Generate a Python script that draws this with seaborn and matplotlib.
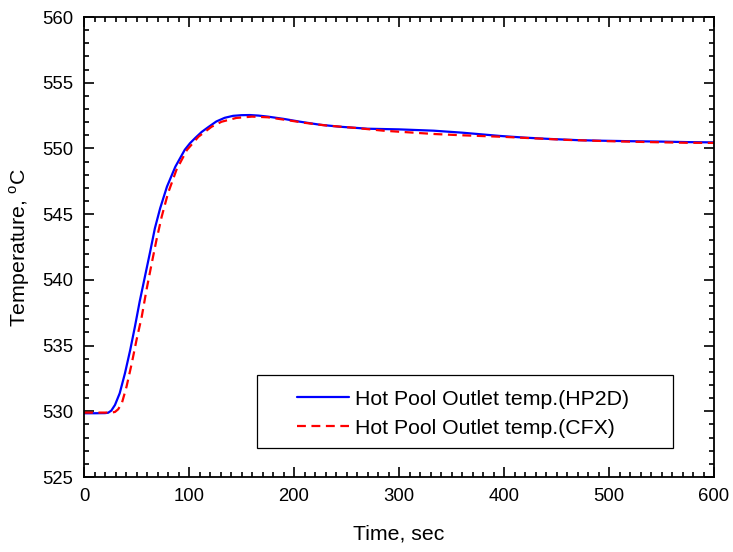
import numpy as np
import pandas as pd
import matplotlib
matplotlib.use("Agg")
import matplotlib.pyplot as plt
import seaborn as sns
from matplotlib.ticker import MultipleLocator
from matplotlib.patches import Rectangle

# ---- data ----
time_hp2d = [0, 10, 20, 23, 26, 29.5, 34, 39, 44, 48.5, 53, 58, 63, 67.5, 72.5,
             79, 87, 96, 101, 106, 112, 118, 126, 134, 142, 150, 158, 166, 175,
             190, 206, 225, 244, 270, 300, 333, 360, 396, 420, 444, 470, 491,
             520, 550, 575, 600]
temp_hp2d = [529.85, 529.85, 529.86, 529.89, 530.05, 530.48, 531.37, 532.89,
             534.66, 536.44, 538.34, 540.24, 542.14, 543.92, 545.44, 547.09,
             548.61, 549.9, 550.4, 550.8, 551.25, 551.6, 552.05, 552.33, 552.48,
             552.53, 552.54, 552.5, 552.42, 552.25, 552.03, 551.8, 551.65,
             551.5, 551.45, 551.35, 551.2, 550.95, 550.82, 550.72, 550.63,
             550.59, 550.55, 550.52, 550.48, 550.46]

time_cfx = [0, 10, 20, 26, 29.5, 32.5, 36, 40.5, 45.5, 50, 55, 59.5, 64.5, 69,
            74, 80, 88, 98, 109, 121.5, 131, 145, 160, 175, 193, 210, 230, 260,
            285, 310, 333, 360, 380, 400, 428, 460, 500, 540, 574, 600]
temp_cfx = [529.9, 529.9, 529.9, 529.9, 529.95, 530.15, 530.6, 531.87, 533.65,
            535.42, 537.2, 539.23, 541.26, 543.03, 544.81, 546.59, 548.36,
            549.88, 550.89, 551.65, 552.03, 552.32, 552.42, 552.37, 552.16,
            551.95, 551.75, 551.55, 551.35, 551.22, 551.1, 551.0, 550.94,
            550.88, 550.77, 550.65, 550.55, 550.48, 550.43, 550.42]

label_hp2d = "Hot Pool Outlet temp.(HP2D)"
label_cfx = "Hot Pool Outlet temp.(CFX)"

sns.set_style("ticks")
plt.rcParams['font.family'] = ['Liberation Sans', 'DejaVu Sans']
plt.rcParams['mathtext.fontset'] = 'custom'
plt.rcParams['mathtext.rm'] = 'Liberation Sans'
plt.rcParams['text.color'] = 'black'
plt.rcParams['axes.labelcolor'] = 'black'
plt.rcParams['xtick.color'] = 'black'
plt.rcParams['ytick.color'] = 'black'

fig = plt.figure(figsize=(7.33, 5.52), dpi=100)
ax = fig.add_axes([84 / 733, 1 - 477 / 552, 630 / 733, 460 / 552])

sns.lineplot(x=time_hp2d, y=temp_hp2d, ax=ax, color="#0000FF", linewidth=1.6,
             label=label_hp2d)
sns.lineplot(x=time_cfx, y=temp_cfx, ax=ax, color="#FF0000", linewidth=1.6,
             label=label_cfx, linestyle=(0, (4, 2.5)))

ax.set_xlim(0, 600)
ax.set_ylim(525, 560)
ax.xaxis.set_major_locator(MultipleLocator(100))
ax.xaxis.set_minor_locator(MultipleLocator(10))
ax.yaxis.set_major_locator(MultipleLocator(5))
ax.yaxis.set_minor_locator(MultipleLocator(1))

ax.tick_params(which='both', direction='in', top=True, right=True,
               color='black', width=1.2)
ax.tick_params(which='major', length=7, labelsize=13.3, pad=8,
               labelcolor='black')
ax.tick_params(which='minor', length=3.5)
for s in ax.spines.values():
    s.set_linewidth(1.3)
    s.set_color('black')

ax.set_xlabel("Time, sec", fontsize=15.3, labelpad=14, color='black')
ax.set_ylabel(r"Temperature, $^{\mathrm{o}}$C", fontsize=15.3, labelpad=7,
              color='black')

# legend box (Origin style, wide padding)
ax.add_patch(Rectangle((0.274, 0.0624), 0.935 - 0.274, 0.2217 - 0.0624,
                       transform=ax.transAxes, facecolor='white',
                       edgecolor='black', linewidth=0.9, zorder=4))
leg = ax.legend(loc='upper left', bbox_to_anchor=(0.338, 0.19), fontsize=15.3,
                frameon=False, handlelength=2.45, handletextpad=0.3,
                borderpad=0, labelspacing=0.48, borderaxespad=0)
leg.set_zorder(5)
for t in leg.get_texts():
    t.set_color('black')

fig.savefig("out.png", dpi=100)
